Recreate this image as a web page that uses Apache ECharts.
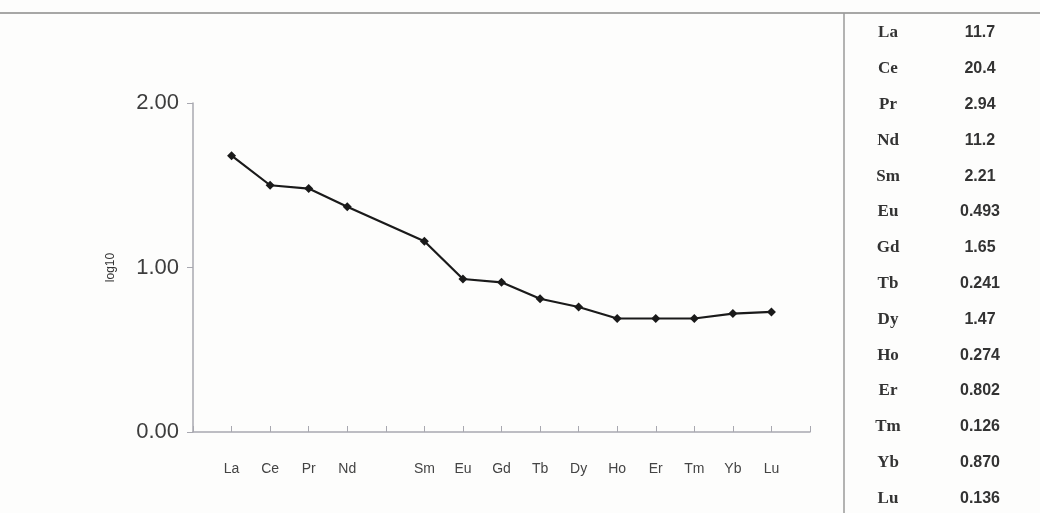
<!DOCTYPE html>
<html>
<head>
<meta charset="utf-8">
<script src="https://cdn.jsdelivr.net/npm/echarts@6/dist/echarts.min.js"></script>
<style>
html,body{margin:0;padding:0;background:#fdfdfc;}
#chart{width:1040px;height:513px;}
</style>
</head>
<body>
<div id="chart"></div>
<script>
// Categories (blank slots at both ends and for Pm gap)
var categories = ['', 'La', 'Ce', 'Pr', 'Nd', '', 'Sm', 'Eu', 'Gd', 'Tb', 'Dy', 'Ho', 'Er', 'Tm', 'Yb', 'Lu', ''];
// log10 normalized values
var logValues = [null, 1.68, 1.50, 1.48, 1.37, null, 1.16, 0.93, 0.91, 0.81, 0.76, 0.69, 0.69, 0.69, 0.72, 0.73, null];
var yTicks = [0, 1, 2];
// Side table
var tableElements = ['La', 'Ce', 'Pr', 'Nd', 'Sm', 'Eu', 'Gd', 'Tb', 'Dy', 'Ho', 'Er', 'Tm', 'Yb', 'Lu'];
var tableValues = ['11.7', '20.4', '2.94', '11.2', '2.21', '0.493', '1.65', '0.241', '1.47', '0.274', '0.802', '0.126', '0.870', '0.136'];

var chart = echarts.init(document.getElementById('chart'));

var graphics = [
  {type:'line', shape:{x1:0, y1:13, x2:1040, y2:13}, style:{stroke:'#8a8a8a', lineWidth:1.5}},
  {type:'line', shape:{x1:844, y1:13, x2:844, y2:513}, style:{stroke:'#9a9a9a', lineWidth:1.5}}
];
for (var i = 0; i < tableElements.length; i++) {
  var yy = 33 + i * 35.8;
  graphics.push({type:'text', x:888, y:yy, style:{text:tableElements[i], font:'bold 17px "Liberation Serif", serif', fill:'#333', textAlign:'center', textVerticalAlign:'middle'}});
  graphics.push({type:'text', x:980, y:yy, style:{text:tableValues[i], font:'bold 16px "Liberation Sans", Arial, sans-serif', fill:'#333', textAlign:'center', textVerticalAlign:'middle'}});
}

chart.setOption({
  backgroundColor: '#fdfdfc',
  animation: false,
  grid: {left: 193, right: 230, top: 103, bottom: 81},
  xAxis: {
    type: 'category',
    data: categories,
    boundaryGap: false,
    axisLine: {lineStyle: {color: '#a8a8b0', width: 1.5}},
    axisTick: {show: true, inside: true, length: 6, interval: 0, lineStyle: {color: '#a8a8b0'}},
    axisLabel: {interval: 0, margin: 30, color: '#444', fontSize: 14, fontFamily: 'Liberation Sans, Arial, sans-serif'},
    splitLine: {show: false}
  },
  yAxis: {
    type: 'value',
    min: yTicks[0],
    max: yTicks[yTicks.length - 1],
    interval: 1,
    name: 'log10',
    nameLocation: 'middle',
    nameGap: 76,
    nameRotate: 90,
    nameTextStyle: {color: '#333', fontSize: 12, fontFamily: 'Liberation Sans, Arial, sans-serif'},
    axisLine: {show: true, lineStyle: {color: '#a8a8b0', width: 1.5}},
    axisTick: {show: true, length: 6, lineStyle: {color: '#a8a8b0'}},
    axisLabel: {formatter: function (v) { return v.toFixed(2); }, color: '#3d3d3d', fontSize: 22, margin: 14, fontFamily: 'Liberation Sans, Arial, sans-serif'},
    splitLine: {show: false}
  },
  series: [{
    type: 'line',
    data: logValues,
    connectNulls: true,
    symbol: 'diamond',
    symbolSize: 9,
    lineStyle: {color: '#1a1a1a', width: 2.2},
    itemStyle: {color: '#1a1a1a'}
  }],
  graphic: graphics
});
</script>
</body>
</html>
